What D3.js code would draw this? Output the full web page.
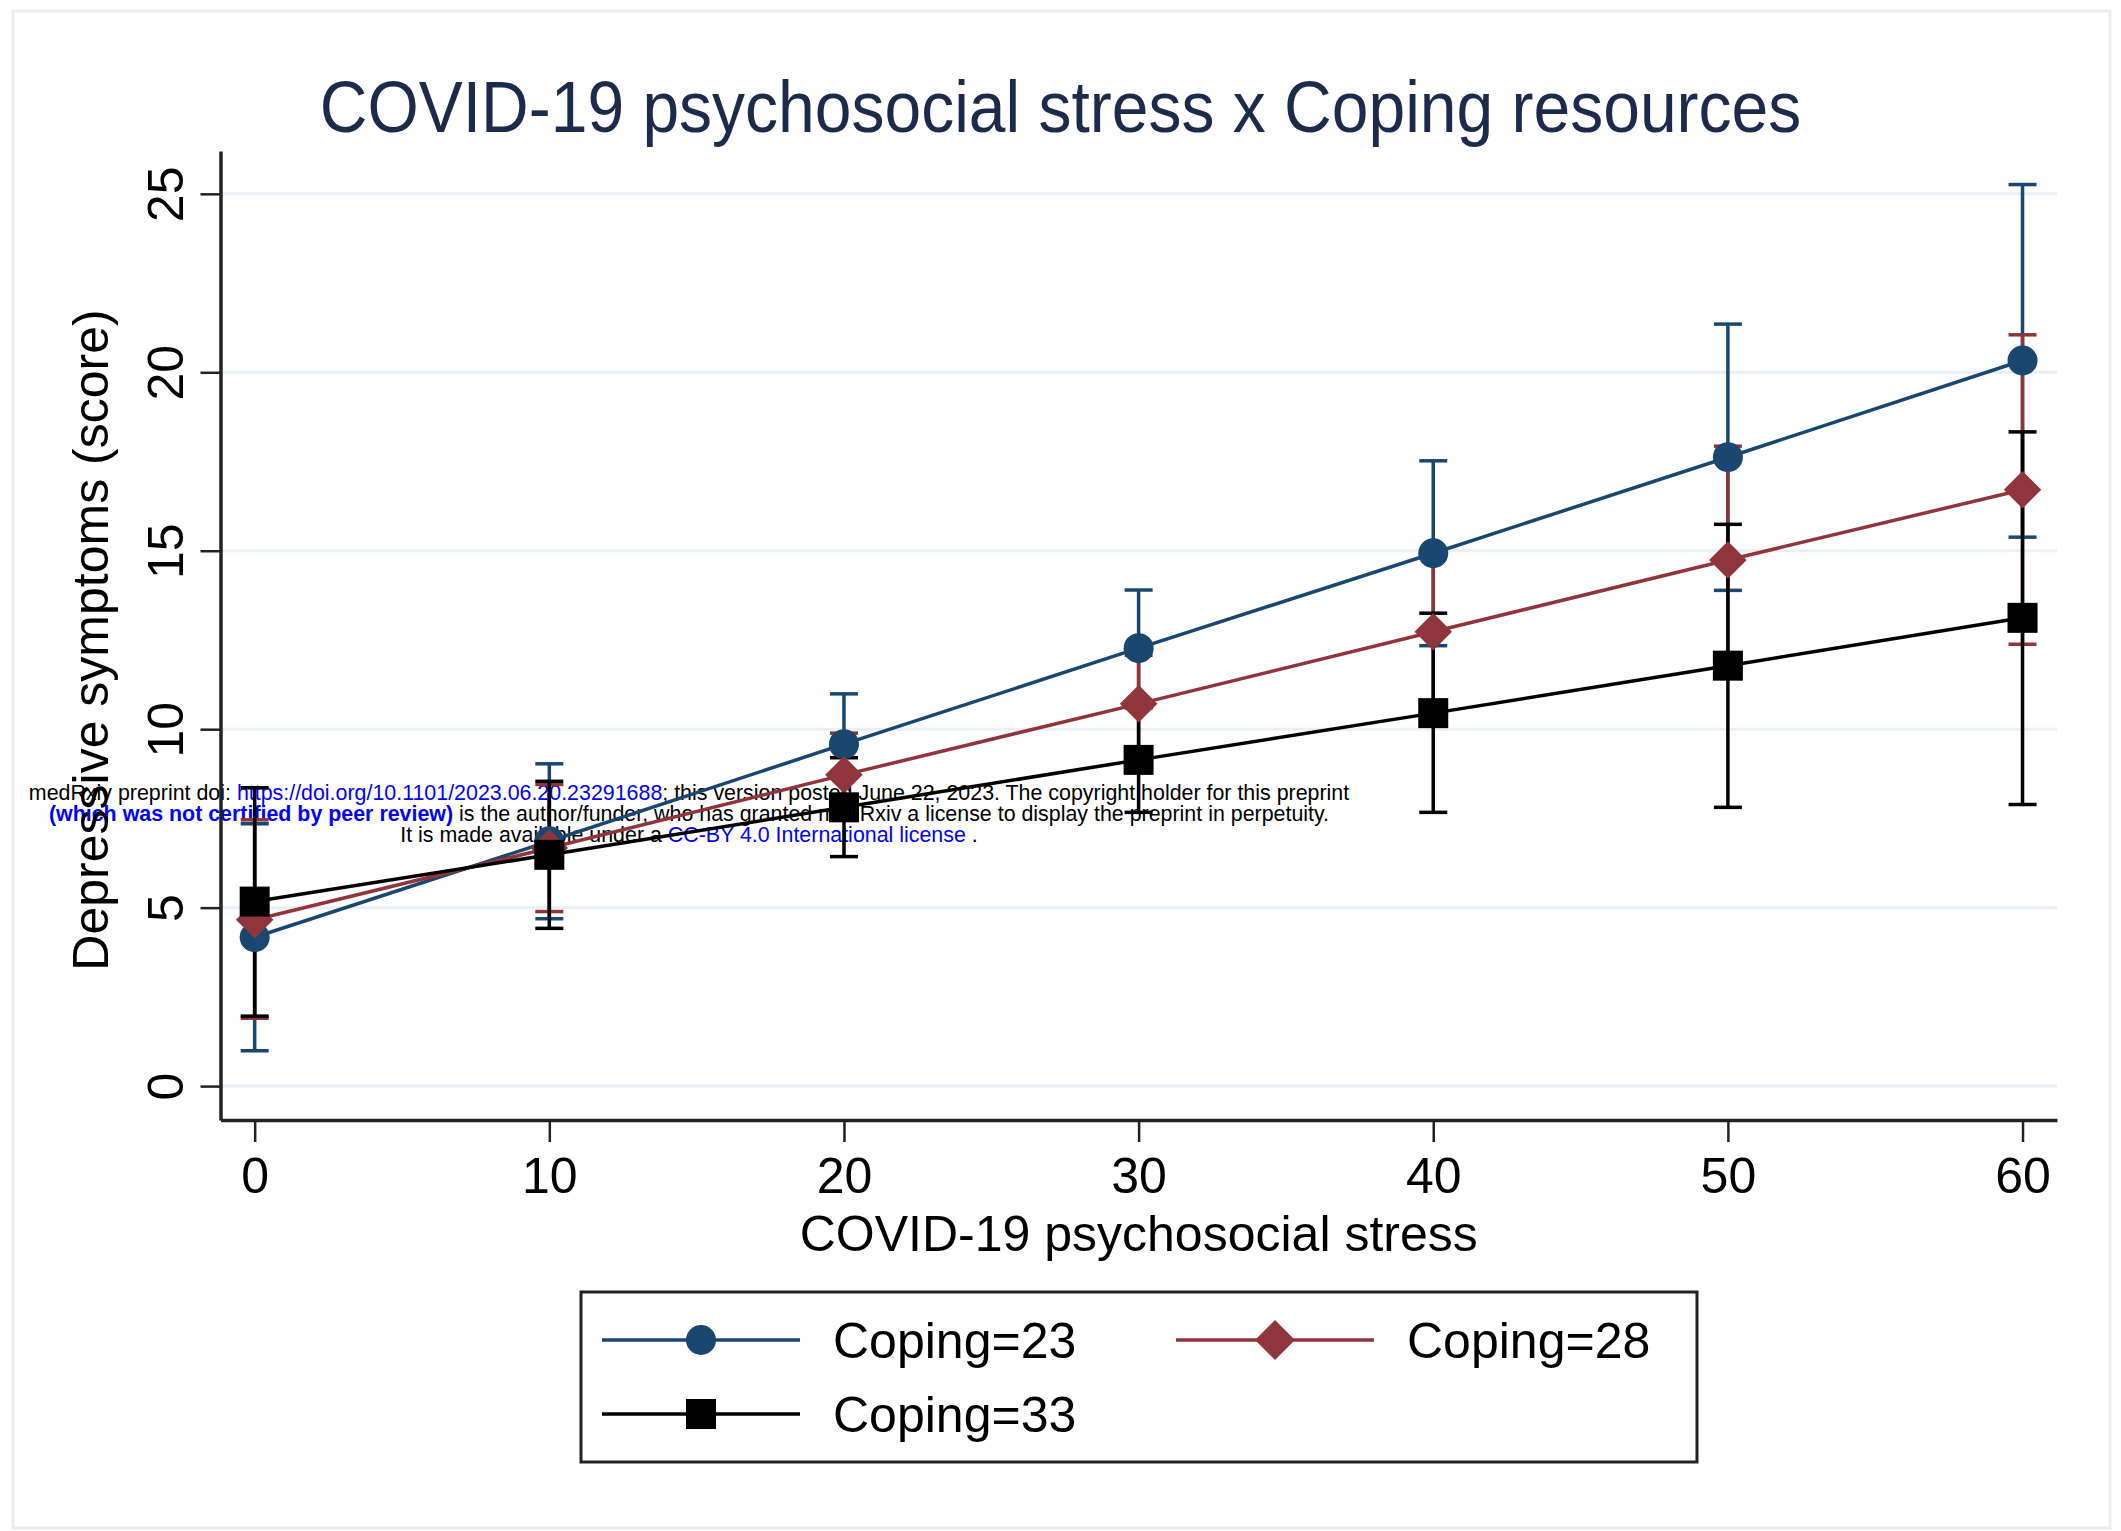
<!DOCTYPE html>
<html>
<head>
<meta charset="utf-8">
<script src="https://cdn.jsdelivr.net/npm/d3@7"></script>
<style>
  html, body { margin: 0; padding: 0; background: #fff; }
  svg { display: block; font-family: "Liberation Sans", Arial, Helvetica, sans-serif; }
</style>
</head>
<body>
<div id="chart"></div>
<script>
// COVID-19 psychosocial stress levels on the x axis
const stress = [0, 10, 20, 30, 40, 50, 60];

// Predicted depressive symptoms with 95% CI, one set per coping level
const coping23 = [4.17, 6.86, 9.58, 12.27, 14.93, 17.62, 20.33];
const coping23Lo = [0.99, 4.69, 8.17, 10.64, 12.34, 13.89, 15.38];
const coping23Hi = [7.35, 9.03, 10.99, 13.9, 17.52, 21.35, 25.26];

const coping28 = [4.66, 6.67, 8.72, 10.71, 12.73, 14.74, 16.71];
const coping28Lo = [1.9, 4.89, 7.55, 9.35, 10.5, 11.55, 12.38];
const coping28Hi = [7.46, 8.45, 9.89, 12.07, 14.96, 17.93, 21.05];

const coping33 = [5.17, 6.48, 7.81, 9.14, 10.45, 11.78, 13.12];
const coping33Lo = [1.96, 4.42, 6.43, 7.67, 7.67, 7.81, 7.89];
const coping33Hi = [8.36, 8.54, 9.2, 10.6, 13.25, 15.74, 18.33];

const yTicks = [0, 5, 10, 15, 20, 25];
const xTicks = [0, 10, 20, 30, 40, 50, 60];

const seriesNames = ["Coping=23", "Coping=28", "Coping=33"];
const seriesColors = ["#1a476f", "#90353b", "#000000"];
const seriesShapes = ["circle", "diamond", "square"];

const width = 2121;
const height = 1531;

const series = [
  { est: coping23, lo: coping23Lo, hi: coping23Hi },
  { est: coping28, lo: coping28Lo, hi: coping28Hi },
  { est: coping33, lo: coping33Lo, hi: coping33Hi },
].map((s, i) => ({ ...s, name: seriesNames[i], color: seriesColors[i], shape: seriesShapes[i] }));

const svg = d3.select("#chart")
  .append("svg")
  .attr("width", width)
  .attr("height", height)
  .attr("viewBox", [0, 0, width, height]);

// outer frame
svg.append("rect")
  .attr("x", 13).attr("y", 11)
  .attr("width", 2097).attr("height", 1517)
  .attr("fill", "#fff")
  .attr("stroke", "#ececec")
  .attr("stroke-width", 3);

// scales (domain padded a bit so the axis lines overhang the ticks like Stata does)
const x = d3.scaleLinear().domain([-1.16, 61.17]).range([220.5, 2057]);
const y = d3.scaleLinear().domain([-0.95, 26.2]).range([1120, 151]);

// gridlines
svg.append("g")
  .selectAll("line")
  .data(yTicks)
  .join("line")
  .attr("x1", x.range()[0])
  .attr("x2", x.range()[1])
  .attr("y1", d => y(d))
  .attr("y2", d => y(d))
  .attr("stroke", "#e9eff4")
  .attr("stroke-width", 3);

// medRxiv watermark (sits under the marks)
const wm = svg.append("g")
  .attr("font-size", 21.4)
  .attr("text-anchor", "middle");

const wmLines = [
  [["medRxiv preprint doi: ", "#000", "normal"], ["https://doi.org/10.1101/2023.06.20.23291688", "#0000ff", "normal"], ["; this version posted June 22, 2023. The copyright holder for this preprint", "#000", "normal"]],
  [["(which was not certified by peer review)", "#0000ff", "bold"], [" is the author/funder, who has granted medRxiv a license to display the preprint in perpetuity.", "#000", "normal"]],
  [["It is made available under a ", "#000", "normal"], ["CC-BY 4.0 International license", "#0000ff", "normal"], [" .", "#000", "normal"]],
];
wmLines.forEach((parts, i) => {
  const t = wm.append("text")
    .attr("x", 689)
    .attr("y", 800 + i * 21)
    .attr("xml:space", "preserve");
  parts.forEach(([s, c, w]) => {
    t.append("tspan").attr("fill", c).attr("font-weight", w).text(s);
  });
});

// axes
const yAxis = svg.append("g")
  .attr("transform", `translate(${x.range()[0]},0)`)
  .call(d3.axisLeft(y).tickValues(yTicks).tickSize(20).tickSizeOuter(0));

yAxis.select(".domain").attr("stroke", "#222").attr("stroke-width", 3.5);
yAxis.selectAll(".tick line").attr("stroke", "#222").attr("stroke-width", 2.5);
yAxis.selectAll(".tick text")
  .attr("x", 0)
  .attr("dy", 0)
  .attr("text-anchor", "middle")
  .attr("transform", "translate(-38,0) rotate(-90)")
  .attr("font-size", 50)
  .attr("font-family", "Liberation Sans, Arial, sans-serif")
  .attr("fill", "#000");

const xAxis = svg.append("g")
  .attr("transform", `translate(0,${y.range()[0]})`)
  .call(d3.axisBottom(x).tickValues(xTicks).tickSize(22).tickSizeOuter(0).tickPadding(15));

xAxis.select(".domain").attr("stroke", "#222").attr("stroke-width", 3.5);
xAxis.selectAll(".tick line").attr("stroke", "#222").attr("stroke-width", 2.5);
xAxis.selectAll(".tick text")
  .attr("font-size", 50)
  .attr("font-family", "Liberation Sans, Arial, sans-serif")
  .attr("fill", "#000");

// axis titles
svg.append("text")
  .attr("transform", `translate(108,640) rotate(-90)`)
  .attr("text-anchor", "middle")
  .attr("font-size", 50)
  .attr("fill", "#000")
  .text("Depressive symptoms (score)");

svg.append("text")
  .attr("x", (x.range()[0] + x.range()[1]) / 2)
  .attr("y", 1251)
  .attr("text-anchor", "middle")
  .attr("font-size", 50)
  .attr("fill", "#000")
  .text("COVID-19 psychosocial stress");

// title (Stata renders it a touch taller than plain Arial)
svg.append("text")
  .attr("transform", `translate(${width / 2},132) scale(1,1.1)`)
  .attr("text-anchor", "middle")
  .attr("font-size", 66)
  .attr("fill", "#1c2a4c")
  .text("COVID-19 psychosocial stress x Coping resources");

// marker path builder
function markerPath(shape, r) {
  if (shape === "circle") return d3.symbol(d3.symbolCircle, Math.PI * r * r)();
  if (shape === "square") return d3.symbol(d3.symbolSquare, (2 * r) * (2 * r))();
  return `M0,${-r * 1.25}L${r * 1.25},0L0,${r * 1.25}L${-r * 1.25},0Z`;
}

// confidence intervals (capped spikes)
const capHalf = 14;
series.forEach(s => {
  const g = svg.append("g").attr("stroke", s.color).attr("stroke-width", 3.5);
  const rows = stress.map((v, i) => ({ x: v, lo: s.lo[i], hi: s.hi[i] }));
  g.selectAll(".spike")
    .data(rows)
    .join("line")
    .attr("x1", d => x(d.x)).attr("x2", d => x(d.x))
    .attr("y1", d => y(d.lo)).attr("y2", d => y(d.hi));
  g.selectAll(".caphi")
    .data(rows)
    .join("line")
    .attr("class", "caphi")
    .attr("x1", d => x(d.x) - capHalf).attr("x2", d => x(d.x) + capHalf)
    .attr("y1", d => y(d.hi)).attr("y2", d => y(d.hi));
  g.selectAll(".caplo")
    .data(rows)
    .join("line")
    .attr("class", "caplo")
    .attr("x1", d => x(d.x) - capHalf).attr("x2", d => x(d.x) + capHalf)
    .attr("y1", d => y(d.lo)).attr("y2", d => y(d.lo));
});

// connected lines with markers
const line = d3.line().x(d => x(d.x)).y(d => y(d.v));
series.forEach(s => {
  const pts = stress.map((v, i) => ({ x: v, v: s.est[i] }));
  svg.append("path")
    .datum(pts)
    .attr("fill", "none")
    .attr("stroke", s.color)
    .attr("stroke-width", 3.5)
    .attr("d", line);
  svg.append("g")
    .selectAll("path")
    .data(pts)
    .join("path")
    .attr("transform", d => `translate(${x(d.x)},${y(d.v)})`)
    .attr("d", markerPath(s.shape, 15))
    .attr("fill", s.color);
});

// legend
const legend = svg.append("g");
legend.append("rect")
  .attr("x", 581).attr("y", 1292)
  .attr("width", 1116).attr("height", 170)
  .attr("fill", "#fff")
  .attr("stroke", "#222")
  .attr("stroke-width", 3);

const legendPos = [
  { lx: 602, ty: 1340 },
  { lx: 1176, ty: 1340 },
  { lx: 602, ty: 1414 },
];
series.forEach((s, i) => {
  const p = legendPos[i];
  const g = legend.append("g").attr("transform", `translate(${p.lx},${p.ty})`);
  g.append("line")
    .attr("x1", 0).attr("x2", 198)
    .attr("stroke", s.color)
    .attr("stroke-width", 3.5);
  g.append("path")
    .attr("transform", "translate(99,0)")
    .attr("d", markerPath(s.shape, s.shape === "diamond" ? 16 : 15))
    .attr("fill", s.color);
  g.append("text")
    .attr("x", 231)
    .attr("y", 18)
    .attr("font-size", 50)
    .attr("fill", "#000")
    .text(s.name);
});
</script>
</body>
</html>
